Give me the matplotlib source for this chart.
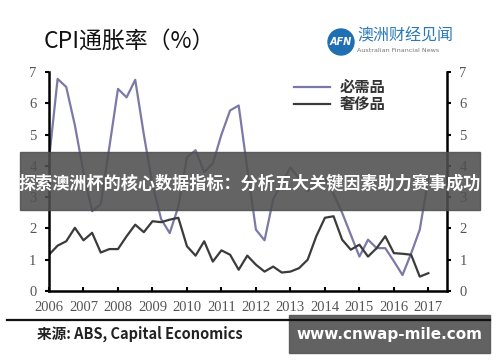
import numpy as np
import matplotlib
matplotlib.use('Agg')
import matplotlib.pyplot as plt
from matplotlib.patches import Rectangle, Ellipse

plt.rcParams['font.family'] = ['Noto Sans CJK SC', 'DejaVu Sans']

# quarterly data, 2006Q1 .. 2017Q1
quarters = [2006 + i * 0.25 for i in range(45)]

necessities = [4.2, 6.78, 6.52, 5.3, 3.8, 2.55, 2.77, 4.6,
               6.46, 6.19, 6.75, 5.0, 3.4, 2.3, 1.85, 2.7,
               4.27, 4.5, 3.8, 4.08, 5.0, 5.77, 5.93, 3.9,
               1.96, 1.62, 2.93, 3.45, 3.95, 3.6, 3.19, 3.46,
               3.6, 3.1, 2.5, 1.8, 1.1, 1.64, 1.37, 1.37,
               0.95, 0.51, 1.2, 1.96, 3.6]

discretionary = [1.16, 1.45, 1.59, 2.02, 1.62, 1.86, 1.23, 1.34,
                 1.34, 1.75, 2.12, 1.88, 2.23, 2.20, 2.28, 2.34,
                 1.43, 1.13, 1.59, 0.94, 1.30, 1.16, 0.68, 1.13,
                 0.84, 0.62, 0.78, 0.59, 0.62, 0.73, 1.00, 1.75,
                 2.34, 2.39, 1.64, 1.32, 1.48, 1.10, 1.37, 1.75,
                 1.21, 1.19, 1.16, 0.46, 0.57]

years = list(range(2006, 2018))
yticks = list(range(0, 8))

fig = plt.figure(figsize=(5, 3.62), dpi=100)
W, H = 500, 362

ax = fig.add_axes([49 / W, 1 - 291 / H, (447 - 49) / W, (291 - 72) / H])
ax.plot(quarters, necessities, color='#7b7aa6', lw=1.6, label='必需品')
ax.plot(quarters, discretionary, color='#3b3b3b', lw=1.6, label='奢侈品')

ax.set_xlim(2006, 2017.54)
ax.set_ylim(0, 7)
ax.set_xticks(years)
ax.set_yticks(yticks)
ax.spines['top'].set_visible(False)
for s in ['left', 'right', 'bottom']:
    ax.spines[s].set_linewidth(1.8)
    ax.spines[s].set_color('black')
ax.tick_params(axis='y', direction='out', length=3, width=1.5,
               left=True, right=True, labelleft=True, labelright=True,
               pad=6, labelsize=10.5, labelcolor='#555555')
ax.tick_params(axis='x', direction='in', length=3, width=1.5,
               pad=7, labelsize=10.5, labelcolor='#555555')
for t in ax.get_xticklabels() + ax.yaxis.get_ticklabels() + \
        [tk.label2 for tk in ax.yaxis.get_major_ticks()]:
    t.set_fontfamily('Liberation Serif')

leg = ax.legend(loc='upper left', bbox_to_anchor=((280 - 49) / 398, 1.03),
                frameon=False, handlelength=2.4, handletextpad=0.6,
                labelspacing=0.05, prop={'size': 11, 'weight': 'bold'})
for t in leg.get_texts():
    t.set_color('#333333')

# title and logo
fig.text(44 / W, 1 - 41 / H, 'CPI通胀率（%）', fontsize=16.5, color='#111111',
         va='center', ha='left')
fig.add_artist(Ellipse((341 / W, 1 - 42 / H), 26 / W, 26 / H,
                       color='#1f6fb2', transform=fig.transFigure))
fig.text(341 / W, 1 - 42 / H, 'AFN', fontsize=7, color='white',
         fontweight='bold', style='italic', ha='center', va='center',
         family='DejaVu Sans')
fig.text(357 / W, 1 - 36 / H, '澳洲财经见闻', fontsize=11.5, color='#2a78b8',
         ha='left', va='center')
fig.text(357 / W, 1 - 50 / H, 'Australian Financial News', fontsize=4.6,
         color='#777777', ha='left', va='center', family='DejaVu Sans')

# bottom rule and source
fig.add_artist(plt.Line2D([7 / W, 490 / W], [1 - 320 / H, 1 - 320 / H],
                          color='#111111', lw=1.6, transform=fig.transFigure))
fig.text(37 / W, 1 - 334 / H, '来源: ABS, Capital Economics', fontsize=10.5,
         fontweight='bold', color='#222222', ha='left', va='center')

# watermark banners
fig.add_artist(Rectangle((20 / W, 1 - 210 / H), 460 / W, 58 / H,
                         color='#4f4f4f', alpha=0.88, transform=fig.transFigure))
fig.text(250 / W, 1 - 184 / H, '探索澳洲杯的核心数据指标：分析五大关键因素助力赛事成功',
         fontsize=12.3, fontweight='bold', color='white', ha='center', va='center')
fig.add_artist(Rectangle((289 / W, 1 - 353 / H), 201 / W, 38 / H,
                         color='#5a5a5a', alpha=0.95, transform=fig.transFigure))
fig.text(389 / W, 1 - 334 / H, 'www.cnwap-mile.com', fontsize=11,
         fontweight='bold', color='white', ha='center', va='center',
         family='DejaVu Sans')

fig.savefig('out.png', dpi=100)
